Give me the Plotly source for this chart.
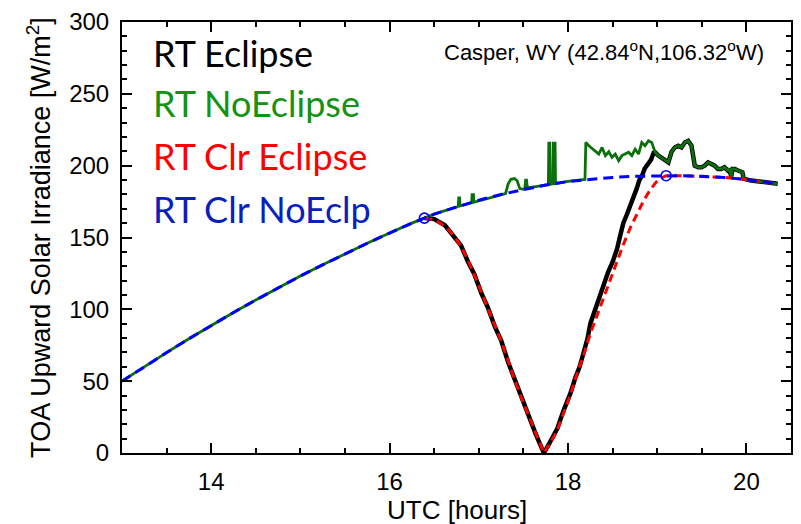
import plotly.graph_objects as go

# ---- data ----
clear_t = [13.0, 13.25, 13.5, 13.75, 14.0, 14.25, 14.5, 14.75, 15.0, 15.25, 15.5, 15.75,
           16.0, 16.25, 16.5, 16.75, 17.0, 17.25, 17.5, 17.75, 18.0, 18.25, 18.5, 18.75,
           19.0, 19.25, 19.5, 19.75, 20.0, 20.25, 20.35]
clear_v = [50.0, 60.1, 69.9, 79.5, 88.8, 97.8, 106.5, 115.0, 123.2, 131.0, 138.7, 146.0,
           153.1, 160.0, 166.3, 171.4, 176.0, 180.0, 183.5, 186.5, 189.0, 190.6, 191.8, 192.6,
           193.0, 193.0, 192.6, 191.8, 190.3, 188.3, 187.4]

# clear-sky with eclipse, during the eclipse
ecl_t = [16.39, 16.50, 16.62, 16.71, 16.80, 16.88, 16.95, 17.03, 17.10, 17.18, 17.25, 17.33,
         17.40, 17.48, 17.55, 17.63, 17.68, 17.73, 17.78, 17.83, 17.88, 17.95, 18.03, 18.10,
         18.18, 18.25, 18.33, 18.40, 18.47, 18.55, 18.62, 18.70, 18.77, 18.85, 18.92, 18.98,
         19.03, 19.10]
ecl_v = [163.5, 162.5, 158.0, 152.0, 144.0, 134.0, 124.0, 112.0, 101.0, 89.0, 78.0, 64.0,
         51.0, 38.0, 27.0, 15.0, 7.0, 0.0, 5.0, 10.0, 16.0, 28.0, 41.0, 55.0,
         69.0, 83.0, 96.5, 109.0, 121.0, 134.0, 145.0, 157.0, 166.0, 176.0, 183.0, 188.0,
         191.0, 193.0]

# RT with eclipse, during the eclipse (before it joins the no-eclipse line)
blk_t = [16.39, 16.50, 16.62, 16.71, 16.80, 16.88, 16.95, 17.03, 17.10, 17.18, 17.25, 17.33,
         17.40, 17.48, 17.55, 17.63, 17.68, 17.73, 17.78, 17.83, 17.88, 17.95, 18.03, 18.08,
         18.13, 18.18, 18.22, 18.25, 18.30, 18.35, 18.40, 18.45, 18.50, 18.55, 18.58, 18.62,
         18.66, 18.70, 18.74, 18.77, 18.80, 18.83, 18.86, 18.90, 18.93, 18.96]
blk_v = [163.5, 162.8, 158.5, 151.0, 144.5, 133.0, 124.5, 111.0, 101.5, 88.0, 78.5, 63.0,
         51.5, 37.0, 27.5, 14.5, 7.0, 0.0, 5.5, 11.0, 17.0, 29.5, 42.0, 52.0,
         60.0, 71.0, 80.0, 90.0, 99.0, 110.0, 119.0, 126.0, 133.0, 142.0, 150.0, 160.0,
         166.0, 172.0, 178.0, 184.0, 190.0, 193.0, 198.0, 202.0, 204.0, 209.0]

# RT without eclipse
grn_t = [13.0, 13.25, 13.5, 13.75, 14.0, 14.25, 14.5, 14.75, 15.0, 15.25, 15.5, 15.75,
         16.0, 16.25, 16.5, 16.75, 16.77, 16.775, 16.785, 16.79, 16.92, 16.925, 16.94, 16.945,
         17.25, 17.30, 17.33, 17.36, 17.40, 17.43, 17.46, 17.50, 17.515, 17.525, 17.535, 17.545,
         17.75, 17.78, 17.785, 17.795, 17.80, 17.83, 17.835, 17.855, 17.86, 18.0, 18.19,
         18.20, 18.234, 18.27, 18.307, 18.345, 18.382, 18.419, 18.457, 18.493, 18.53, 18.568,
         18.605, 18.641, 18.679, 18.716, 18.753, 18.791, 18.827, 18.864, 18.902, 18.939,
         18.976, 19.013, 19.069, 19.125, 19.161, 19.198, 19.236, 19.273, 19.31, 19.347,
         19.384, 19.421, 19.459, 19.496, 19.532, 19.57, 19.607, 19.644, 19.681, 19.718,
         19.754, 19.793, 19.81, 19.83, 19.845, 19.87, 19.90, 19.93, 19.955, 19.97, 20.0,
         20.05, 20.145, 20.25, 20.35]
grn_v = [50.0, 60.1, 69.9, 79.5, 88.8, 97.8, 106.5, 115.0, 123.2, 131.0, 138.7, 146.0,
         153.1, 160.0, 166.3, 171.4, 171.7, 177.5, 177.5, 172.0, 174.2, 179.8, 179.8, 174.5,
         180.0, 180.6, 187.5, 190.5, 191.0, 189.5, 184.0, 183.5, 184.0, 190.0, 190.0, 184.6,
         186.5, 186.8, 215.7, 215.7, 187.0, 187.3, 215.7, 215.7, 187.5, 189.0, 190.4,
         216.2, 213.9, 212.0, 210.4, 208.1, 212.7, 207.0, 209.7, 205.8, 208.1, 203.5,
         207.0, 208.1, 209.3, 207.0, 211.5, 208.1, 216.2, 213.9, 217.3, 216.2,
         209.3, 207.0, 204.6, 202.3, 209.7, 212.7, 213.9, 212.7, 216.2, 217.3,
         214.0, 200.0, 198.9, 198.9, 200.0, 202.3, 201.2, 200.0, 197.7, 197.7,
         198.9, 196.6, 197.7, 192.5, 197.7, 197.7, 196.8, 196.0, 195.4, 191.0, 190.2,
         189.6, 189.0, 188.3, 187.4]

circle_t = [16.39, 19.10]
circle_v = [163.5, 193.0]

legend_labels = ["RT Eclipse", "RT NoEclipse", "RT Clr Eclipse", "RT Clr NoEclp"]
legend_colors = ["#000000", "#129312", "#ff0000", "#0a1fbe"]
location_text = "Casper, WY (42.84<sup>o</sup>N,106.32<sup>o</sup>W)"
x_title = "UTC [hours]"
y_title = "TOA Upward Solar Irradiance [W/m<sup>2</sup>]"
x_major = [14, 16, 18, 20]

# ---- assemble composite series from the named arrays ----
red_t = ecl_t + [t for t in clear_t if t > ecl_t[-1]]
red_v = ecl_v + [v for t, v in zip(clear_t, clear_v) if t > ecl_t[-1]]
black_t = blk_t + [t for t in grn_t if t > blk_t[-1]]
black_v = blk_v + [v for t, v in zip(grn_t, grn_v) if t > blk_t[-1]]

fig = go.Figure()
fig.add_trace(go.Scatter(x=black_t, y=black_v, mode="lines",
                         line=dict(color="black", width=4.5), showlegend=False))
fig.add_trace(go.Scatter(x=grn_t, y=grn_v, mode="lines",
                         line=dict(color="#0b6f0b", width=2.8), showlegend=False))
fig.add_trace(go.Scatter(x=red_t, y=red_v, mode="lines",
                         line=dict(color="#ff0000", width=3, dash="8px,5px"), showlegend=False))
fig.add_trace(go.Scatter(x=clear_t, y=clear_v, mode="lines",
                         line=dict(color="#0000ff", width=3, dash="10px,6px"), showlegend=False))
fig.add_trace(go.Scatter(x=circle_t, y=circle_v, mode="markers",
                         marker=dict(symbol="circle-open", size=10, color="#0000ff",
                                     line=dict(width=1.6, color="#0000ff")),
                         showlegend=False))
# invisible trace to carry the mirrored (top/right) tick axes
fig.add_trace(go.Scatter(x=[13], y=[0], xaxis="x2", yaxis="y2", mode="markers",
                         marker=dict(opacity=0), showlegend=False, hoverinfo="skip"))

# legend-like labels
leg_y = [278.3, 243.9, 206.5, 169.6]
for lab, col, yy in zip(legend_labels, legend_colors, leg_y):
    fig.add_annotation(x=13.32, y=yy, xref="x", yref="y", text=lab, showarrow=False,
                       xanchor="left", yanchor="middle",
                       font=dict(family="Lato", size=36, color=col))

fig.add_annotation(x=20.22, y=279.5, xref="x", yref="y", text=location_text, showarrow=False,
                   xanchor="right", yanchor="middle",
                   font=dict(family="Liberation Sans", size=22, color="black"))

fig.add_annotation(x=-0.125, y=0.50, xref="paper", yref="paper", text=y_title,
                   showarrow=False, textangle=-90, xanchor="center", yanchor="middle",
                   font=dict(family="Liberation Sans", size=27, color="black"))
fig.add_annotation(x=0.5, y=-0.133, xref="paper", yref="paper", text=x_title,
                   showarrow=False, xanchor="center", yanchor="middle",
                   font=dict(family="Liberation Sans", size=26, color="black"))

axis_common = dict(showgrid=False, zeroline=False, showline=True, linecolor="black",
                   linewidth=2, mirror=True, ticks="inside", ticklen=10, tickwidth=2,
                   tickcolor="black",
                   tickfont=dict(family="Liberation Sans", size=24, color="black"))
x_minor = dict(tick0=13, dtick=0.5, ticks="inside", ticklen=5, tickwidth=2, tickcolor="black")
y_minor = dict(tick0=0, dtick=10, ticks="inside", ticklen=5, tickwidth=2, tickcolor="black")

fig.update_layout(
    xaxis=dict(range=[13, 20.5], tickmode="array", tickvals=x_major, minor=x_minor,
               ticklabelstandoff=6, **axis_common),
    yaxis=dict(range=[0, 300], tickmode="linear", tick0=0, dtick=50, minor=y_minor,
               ticklabelstandoff=6, **axis_common),
    xaxis2=dict(range=[13, 20.5], overlaying="x", side="top", tickmode="array",
                tickvals=x_major, minor=x_minor, ticks="inside", ticklen=10, tickwidth=2,
                tickcolor="black", showticklabels=False, showgrid=False, zeroline=False,
                showline=False),
    yaxis2=dict(range=[0, 300], overlaying="y", side="right", tickmode="linear", tick0=0,
                dtick=50, minor=y_minor, ticks="inside", ticklen=10, tickwidth=2,
                tickcolor="black", showticklabels=False, showgrid=False, zeroline=False,
                showline=False),
    width=801, height=524, margin=dict(l=122, r=8, t=18, b=71),
    paper_bgcolor="white", plot_bgcolor="white")

fig.write_html("out.html")
